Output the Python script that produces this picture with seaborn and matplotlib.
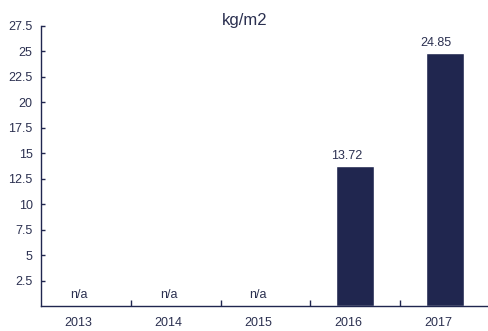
import numpy as np
import pandas as pd
import matplotlib
matplotlib.use("Agg")
import matplotlib.pyplot as plt
import seaborn as sns

years = ["2013", "2014", "2015", "2016", "2017"]
values = [np.nan, np.nan, np.nan, 13.72, 24.85]
value_labels = ["n/a", "n/a", "n/a", "13.72", "24.85"]
y_ticks = [2.5, 5, 7.5, 10, 12.5, 15, 17.5, 20, 22.5, 25, 27.5]
y_tick_labels = ["2.5", "5", "7.5", "10", "12.5", "15", "17.5", "20", "22.5", "25", "27.5"]
title = "kg/m2"

navy = "#20264f"
text_color = "#2b3050"

sns.set_theme(style="white")
plt.rcParams["font.family"] = ["Liberation Sans", "DejaVu Sans"]

df = pd.DataFrame({"year": years, "value": values})
present = df.dropna()

fig = plt.figure(figsize=(4.88, 3.31), dpi=100)
ax = fig.add_axes([41 / 488, 25 / 331, 449 / 488, 280 / 331])

sns.barplot(data=present, x="year", y="value", order=years, color=navy,
            saturation=1, width=0.42, ax=ax)

ax.set_xlim(-0.5, 4.5)
ax.set_ylim(0, 27.5)

# value labels above bars, "n/a" where no data
for i, (v, lab) in enumerate(zip(values, value_labels)):
    if np.isnan(v):
        ax.text(i - 0.08, 0.45, lab, ha="center", va="bottom", fontsize=9,
                color=text_color)
    else:
        ax.text(i - 0.1, v + 0.4, lab, ha="center", va="bottom", fontsize=9,
                color=text_color)

ax.set_yticks(y_ticks)
ax.set_yticklabels(y_tick_labels)
ax.set_xticks([0.5, 1.5, 2.5, 3.5])
ax.set_xticklabels([])
ax.tick_params(axis="both", direction="in", color=navy, width=1,
               labelsize=9, labelcolor=text_color, bottom=True, left=True)
ax.tick_params(axis="y", length=3, pad=6)
ax.tick_params(axis="x", length=4)

for i, yr in enumerate(years):
    ax.text(i - 0.08, -0.04, yr, transform=ax.get_xaxis_transform(),
            ha="center", va="top", fontsize=9, color=text_color)

ax.set_xlabel("")
ax.set_ylabel("")
for side in ["top", "right"]:
    ax.spines[side].set_visible(False)
for side in ["left", "bottom"]:
    ax.spines[side].set_color(navy)
    ax.spines[side].set_linewidth(1.0)

fig.text(245 / 488, 1 - 20 / 331, title, ha="center", va="center",
         fontsize=12, color=text_color)

fig.savefig("out.png", dpi=100)
